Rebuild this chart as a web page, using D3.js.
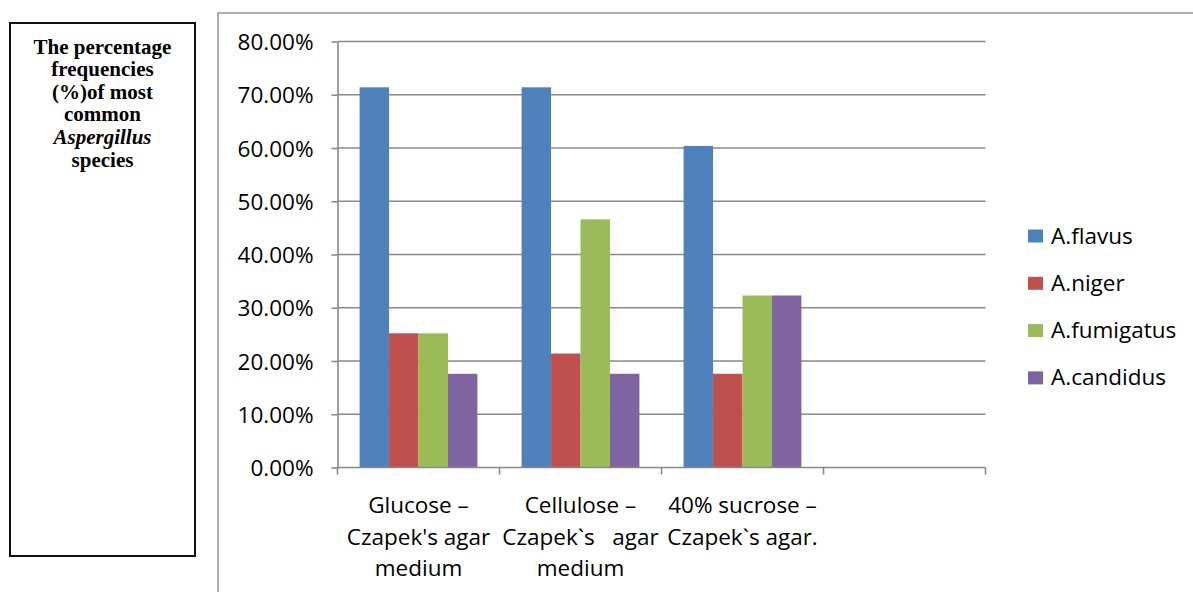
<!DOCTYPE html>
<html>
<head>
<meta charset="utf-8">
<script src="https://cdn.jsdelivr.net/npm/d3@7"></script>
<style>
  html, body { margin: 0; padding: 0; background: #fff; }
  svg { display: block; }
  text { white-space: pre; }
</style>
</head>
<body>
<svg id="chart" width="1193" height="592"></svg>
<script>
// Culture media (the fourth slot of the category axis is left empty)
const categories = ["glucose", "cellulose", "sucrose", "empty"];
const categoryLines = [
  ["Glucose –", "Czapek's agar", "medium"],
  ["Cellulose –", "Czapek`s   agar", "medium"],
  ["40% sucrose –", "Czapek`s agar."],
  []
];

// Species and their percentage frequencies per medium
const series = ["A.flavus", "A.niger", "A.fumigatus", "A.candidus"];
const flavus    = [0.714, 0.714, 0.604];
const niger     = [0.252, 0.214, 0.176];
const fumigatus = [0.252, 0.466, 0.323];
const candidus  = [0.176, 0.176, 0.323];
const seriesValues = [flavus, niger, fumigatus, candidus];
const colors = ["#4F81BD", "#C0504D", "#9BBB59", "#8064A2"];

const yTicks = [0, 0.1, 0.2, 0.3, 0.4, 0.5, 0.6, 0.7, 0.8];

const titleLines = [
  { t: "The percentage", i: false },
  { t: "frequencies", i: false },
  { t: "(%)of most", i: false },
  { t: "common", i: false },
  { t: "Aspergillus", i: true },
  { t: "species", i: false }
];

const svg = d3.select("#chart");
const font = "'Open Sans', sans-serif";

// Side title box
svg.append("rect")
  .attr("x", 10).attr("y", 23).attr("width", 185).attr("height", 533)
  .attr("fill", "none").attr("stroke", "#111").attr("stroke-width", 2);

svg.append("g").selectAll("text").data(titleLines).join("text")
  .attr("x", 102.5)
  .attr("y", (d, i) => 53.5 + i * 22.6)
  .attr("text-anchor", "middle")
  .attr("font-family", "'Liberation Serif', 'Times New Roman', serif")
  .attr("font-weight", "bold")
  .attr("font-style", d => d.i ? "italic" : "normal")
  .attr("font-size", 21)
  .attr("fill", "#000")
  .text(d => d.t);

// Chart area frame
svg.append("rect")
  .attr("x", 218).attr("y", 13).attr("width", 1000).attr("height", 600)
  .attr("fill", "none").attr("stroke", "#9a9a9a").attr("stroke-width", 1.6);

// Scales
const y = d3.scaleLinear().domain([0, 0.8]).range([467.5, 41.5]);
const x = d3.scaleBand().domain(categories).range([337.5, 985.5]).padding(0);
const xs = d3.scaleBand().domain(series).range([0, x.bandwidth()])
  .paddingInner(0).paddingOuter(0.75);

// Gridlines
svg.append("g").selectAll("line").data(yTicks.filter(v => v > 0)).join("line")
  .attr("x1", 337.5).attr("x2", 985.5)
  .attr("y1", d => y(d)).attr("y2", d => y(d))
  .attr("stroke", "#898989").attr("stroke-width", 1.6);

// Bars
const barData = [];
series.forEach((s, si) => {
  seriesValues[si].forEach((v, ci) => {
    barData.push({ series: s, cat: categories[ci], value: v, color: colors[si] });
  });
});
svg.append("g").selectAll("rect").data(barData).join("rect")
  .attr("x", d => x(d.cat) + xs(d.series))
  .attr("width", xs.bandwidth())
  .attr("y", d => y(d.value))
  .attr("height", d => y(0) - y(d.value))
  .attr("fill", d => d.color);

// Y axis
const yAxis = svg.append("g")
  .attr("transform", "translate(337.5,0)")
  .call(d3.axisLeft(y).tickValues(yTicks).tickFormat(d3.format(".2%"))
    .tickSize(6).tickSizeOuter(0).tickPadding(18));
yAxis.select(".domain").attr("stroke", "#898989").attr("stroke-width", 1.6);
yAxis.selectAll(".tick line").attr("stroke", "#898989").attr("stroke-width", 1.6);
yAxis.selectAll(".tick text")
  .attr("font-family", font).attr("font-size", 22.5).attr("fill", "#000")
  .attr("dy", "0.36em");

// X axis: line with ticks at category boundaries
const xAxis = svg.append("g");
xAxis.append("line")
  .attr("x1", 337.5).attr("x2", 985.5).attr("y1", y(0)).attr("y2", y(0))
  .attr("stroke", "#898989").attr("stroke-width", 1.6);
const bounds = categories.map(c => x(c)).concat([x(categories[categories.length - 1]) + x.bandwidth()]);
xAxis.selectAll("line.tk").data(bounds).join("line")
  .attr("class", "tk")
  .attr("x1", d => d).attr("x2", d => d)
  .attr("y1", y(0)).attr("y2", y(0) + 7)
  .attr("stroke", "#898989").attr("stroke-width", 1.6);

// Category labels
categories.forEach((c, ci) => {
  svg.append("g").selectAll("text").data(categoryLines[ci]).join("text")
    .attr("x", x(c) + x.bandwidth() / 2)
    .attr("y", (d, i) => 513 + i * 31.7)
    .attr("text-anchor", "middle")
    .attr("font-family", font).attr("font-size", 22.5).attr("fill", "#000")
    .text(d => d);
});

// Legend
const legend = svg.append("g").selectAll("g").data(series).join("g")
  .attr("transform", (d, i) => `translate(1028, ${236 + i * 47.3})`);
legend.append("rect")
  .attr("x", 0).attr("y", -6.5).attr("width", 15).attr("height", 13)
  .attr("fill", (d, i) => colors[i]);
legend.append("text")
  .attr("x", 23).attr("y", 7.5)
  .attr("font-family", font).attr("font-size", 22.5).attr("fill", "#000")
  .text(d => d);
</script>
</body>
</html>
